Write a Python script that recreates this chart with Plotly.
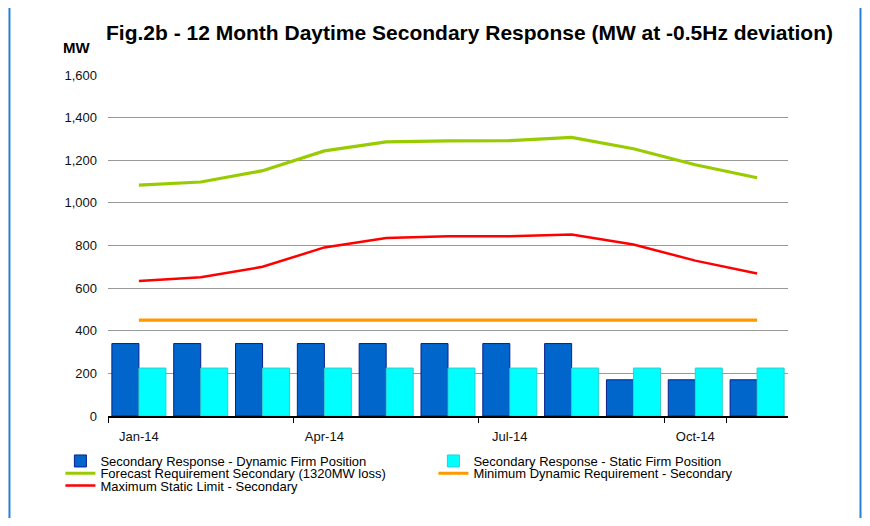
import plotly.graph_objects as go

months = ["Jan-14", "Feb-14", "Mar-14", "Apr-14", "May-14", "Jun-14",
          "Jul-14", "Aug-14", "Sep-14", "Oct-14", "Nov-14"]
dynamic_firm = [340, 340, 340, 340, 340, 340, 340, 340, 170, 170, 170]
static_firm = [225, 225, 225, 225, 225, 225, 225, 225, 225, 225, 225]
forecast_req = [1083, 1098, 1151, 1244, 1286, 1291, 1292, 1307, 1254, 1179, 1118]
min_dynamic = [450, 450, 450, 450, 450, 450, 450, 450, 450, 450, 450]
max_static = [633, 651, 700, 791, 835, 843, 843, 852, 805, 729, 669]
tick_months = ["Jan-14", "Apr-14", "Jul-14", "Oct-14"]
y_ticks = [0, 200, 400, 600, 800, 1000, 1200, 1400, 1600]

FONT = "Liberation Sans, Arial, sans-serif"

fig = go.Figure()
fig.add_trace(go.Bar(x=months, y=dynamic_firm, name="Secondary Response - Dynamic Firm Position",
                     marker=dict(color="#0066cc", line=dict(color="#0a1f8f", width=1)),
                     legend="legend"))
fig.add_trace(go.Bar(x=months, y=static_firm, name="Secondary Response - Static Firm Position",
                     marker=dict(color="#00ffff", line=dict(color="#33cccc", width=1)),
                     legend="legend"))
fig.add_trace(go.Scatter(x=months, y=forecast_req, mode="lines",
                         name="Forecast Requirement Secondary (1320MW loss)",
                         line=dict(color="#99cc00", width=3.2), legend="legend2"))
fig.add_trace(go.Scatter(x=months, y=min_dynamic, mode="lines",
                         name="Minimum Dynamic Requirement - Secondary",
                         line=dict(color="#ff9900", width=3.2), legend="legend2"))
fig.add_trace(go.Scatter(x=months, y=max_static, mode="lines",
                         name="Maximum Static Limit - Secondary",
                         line=dict(color="#ff0000", width=2.5), legend="legend3"))

leg_common = dict(orientation="h", xanchor="left", yanchor="middle",
                  font=dict(family=FONT, size=13, color="#000000"),
                  bgcolor="rgba(0,0,0,0)", entrywidth=328, entrywidthmode="pixels",
                  itemwidth=30, tracegroupgap=0)

# the page body adds an 8px margin on every side, so the figure is made smaller
# (no scrollbars) and its margins are shifted to keep the plot area in place
fig.update_layout(
    width=854, height=510,
    margin=dict(l=100, r=74, t=67, b=102),
    paper_bgcolor="white", plot_bgcolor="white",
    barmode="group", bargap=0.126, bargroupgap=0,
    font=dict(family=FONT, size=13, color="#000000"),
    xaxis=dict(type="category", categoryorder="array", categoryarray=months,
               tickmode="array", tickvals=tick_months, ticktext=tick_months,
               tickson="boundaries", ticks="outside", ticklen=5, tickcolor="#000000",
               ticklabelstandoff=8,
               showgrid=False, showline=True, linecolor="#000000", linewidth=1.5,
               tickfont=dict(family=FONT, size=13, color="#111111"),
               range=[-0.5, 10.5]),
    yaxis=dict(range=[0, 1600], tickmode="array", tickvals=y_ticks,
               tickformat=",d", showgrid=True, gridcolor="#999999", gridwidth=1,
               zeroline=False, showline=False, ticks="",
               ticklabelstandoff=10,
               tickfont=dict(family=FONT, size=13, color="#111111")),
    legend=dict(x=-0.07, y=-0.132, **leg_common),
    legend2=dict(x=-0.07, y=-0.168, **leg_common),
    legend3=dict(x=-0.07, y=-0.204, **leg_common),
    showlegend=True,
)

fig.add_annotation(text="<b>Fig.2b - 12 Month Daytime Secondary Response (MW at -0.5Hz deviation)</b>",
                   xref="paper", yref="paper", x=0.532, y=1.126, xanchor="center", yanchor="middle",
                   showarrow=False, font=dict(family=FONT, size=21, color="#000000"))
fig.add_annotation(text="<b>MW</b>", xref="paper", yref="paper", x=-0.047, y=1.08,
                   xanchor="center", yanchor="middle", showarrow=False,
                   font=dict(family=FONT, size=15, color="#000000"))

# outer frame
fig.add_shape(type="rect", xref="paper", yref="paper", x0=-0.1449, x1=1.1066, y0=-0.6, y1=1.2185,
              line=dict(color="#2a7fdc", width=2), fillcolor="rgba(0,0,0,0)", layer="below")

fig.write_html("out.html")
